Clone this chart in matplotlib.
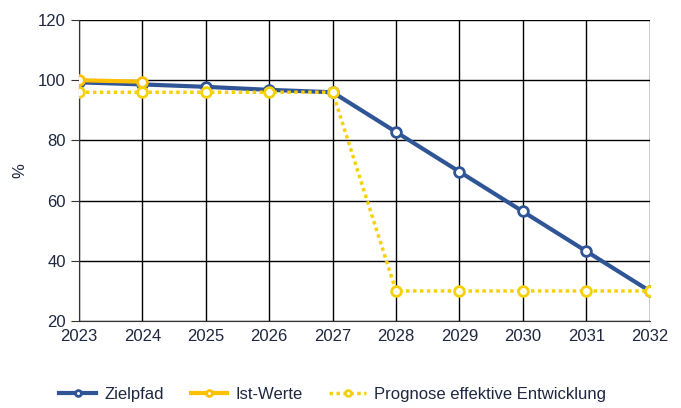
import matplotlib
matplotlib.use("Agg")
import matplotlib.pyplot as plt

years = [2023, 2024, 2025, 2026, 2027, 2028, 2029, 2030, 2031, 2032]
zielpfad = [99.3, 98.6, 97.8, 96.8, 96.0, 82.8, 69.6, 56.4, 43.2, 30.0]
ist_years = [2023, 2024]
ist_werte = [100.0, 99.5]
prognose = [96.0, 96.0, 96.0, 96.0, 96.0, 30.0, 30.0, 30.0, 30.0, 30.0]

plt.rcParams['font.family'] = ['Liberation Sans', 'DejaVu Sans']
text_col = '#1f2740'

fig = plt.figure(figsize=(6.81, 4.08), dpi=100)
ax = fig.add_axes([0.116, 0.213, 0.838, 0.738])

ax.plot(years, zielpfad, color='#2f5597', lw=3, marker='o', ms=7,
        mfc='white', mec='#2f5597', mew=2, label='Zielpfad', zorder=3)
ax.plot(ist_years, ist_werte, color='#ffc000', lw=3, marker='o', ms=7,
        mfc='white', mec='#ffc000', mew=2, label='Ist-Werte', zorder=4)
ax.plot(years, prognose, color='#f5d10c', lw=2.5, ls=(0, (1, 1)), marker='o', ms=7,
        mfc='white', mec='#f5d10c', mew=2, label='Prognose effektive Entwicklung', zorder=5)

ax.set_xlim(2023, 2032)
ax.set_ylim(20, 120)
ax.set_xticks(years)
ax.set_yticks(range(20, 121, 20))
ax.grid(True, color='black', lw=1)
ax.set_axisbelow(True)
for s in ['top', 'right']:
    ax.spines[s].set_visible(False)
for s in ['left', 'bottom']:
    ax.spines[s].set_color('#333333')
ax.tick_params(axis='y', length=6, color='#333333', labelsize=12, labelcolor=text_col)
ax.tick_params(axis='x', length=0, pad=6, labelsize=12, labelcolor=text_col)
ax.set_ylabel('%', fontsize=12, color=text_col)
ax.yaxis.set_label_coords(-0.09, 0.5)

leg = ax.legend(loc='upper center', bbox_to_anchor=(0.445, -0.17), ncol=3, frameon=False,
                fontsize=12, handlelength=2.2, columnspacing=1.6, handletextpad=0.5,
                markerscale=0.6, labelcolor=text_col)

fig.savefig('out.png', dpi=100)
